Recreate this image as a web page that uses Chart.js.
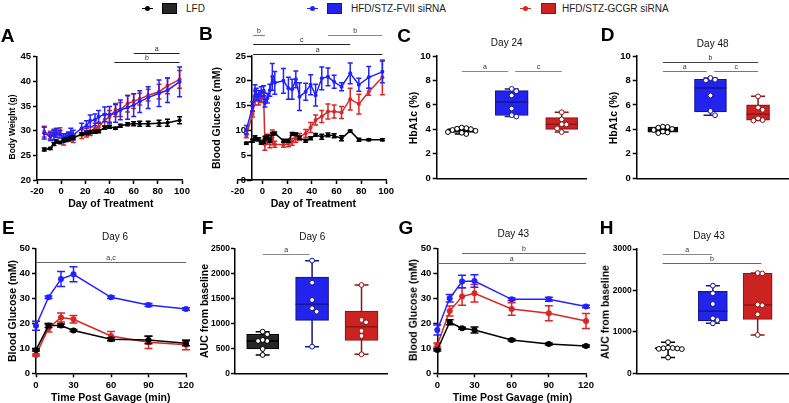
<!DOCTYPE html>
<html><head><meta charset="utf-8">
<script src="https://cdn.jsdelivr.net/npm/chart.js@4.4.1/dist/chart.umd.min.js"></script>
<style>
html,body{margin:0;padding:0;background:#fff;}
body{width:789px;height:403px;position:relative;overflow:hidden;font-family:'Liberation Sans',Arial,sans-serif;}
canvas{position:absolute;}
.t{position:absolute;white-space:nowrap;color:#000;line-height:1;}
.lg{position:absolute;box-sizing:border-box;}
</style></head><body>
<script>
// ================= DATA =================
// Panel A: body weight (g)
const bwDays  = [-14,-9,-6,-4,-1,2,4,6,8,10,17,21,24,28,31,36,40,45,49,55,60,65,72,81,88,98];
const bwLFD   = [26.2,26.4,27.3,27.8,27.6,28.0,28.2,28.3,28.5,28.6,29.3,29.5,29.7,29.8,29.9,30.6,30.8,30.5,31.0,31.3,31.4,31.4,31.4,31.5,31.6,32.1];
const bwLFDsem  = [0.3,0.2,0.3,0.3,0.2,0.3,0.3,0.3,0.3,0.3,0.3,0.3,0.3,0.3,0.3,0.3,0.3,0.2,0.3,0.3,0.4,0.5,0.5,0.6,0.7,0.7];
const bwFVII  = [29.5,28.8,29.1,29.5,29.3,28.6,28.6,28.8,29.5,29.1,30.5,31.0,32.0,32.2,32.8,33.3,33.3,33.5,34.2,34.7,35.2,35.9,36.7,37.6,38.2,39.9];
const bwFVIIsem = [1.2,0.8,1.0,0.9,0.8,0.8,0.8,0.9,1.0,1.0,1.0,1.0,1.2,1.2,1.3,1.5,1.6,1.8,2.0,2.4,2.3,2.2,2.2,2.7,2.5,3.0];
const bwGCGR  = [29.8,29.1,29.6,29.7,29.9,28.0,28.6,28.8,28.8,28.4,29.3,29.6,29.9,30.5,30.7,32.2,32.8,34.2,34.3,35.5,36.0,36.4,37.2,37.9,39.1,40.4];
const bwGCGRsem = [1.1,0.8,0.7,0.8,0.7,0.9,0.8,0.9,0.9,0.8,0.9,0.9,0.9,1.0,1.0,1.2,1.3,1.3,1.4,1.7,1.5,1.2,1.2,1.5,1.6,1.8];

// Panel B: blood glucose (mM)
const bgDays  = [-13,-8,-6,-5,-3,-1,1,2,4,6,8,10,17,21,24,27,30,35,39,43,48,53,58,64,71,78,86,97];
const bgLFD   = [7.4,7.9,8.6,8.2,8.2,7.4,7.7,8.4,8.7,7.9,9.3,9.4,7.9,7.9,9.3,9.2,8.5,7.9,8.4,9.1,8.7,9.1,8.9,8.4,9.9,8.1,8.1,8.1];
const bgLFDsem  = [0.2,0.3,0.3,0.3,0.3,0.2,0.3,0.4,0.3,0.3,0.3,0.3,0.3,0.3,0.3,0.3,0.3,0.3,0.3,0.3,0.5,0.4,0.4,0.5,0.2,0.3,0.2,0.2];
const bgFVII  = [10.1,14.8,18.0,17.3,17.0,17.8,18.0,15.5,16.5,18.1,20.8,19.6,20.0,18.5,18.3,20.3,16.8,17.8,19.2,17.1,20.5,20.8,19.8,18.8,21.5,19.2,20.7,21.8];
const bgFVIIsem = [0.9,1.0,1.2,1.2,1.0,1.0,1.0,0.8,1.0,1.2,2.7,2.3,2.5,2.2,2.0,1.7,2.8,1.7,2.0,2.2,2.3,1.8,1.3,0.8,2.1,1.3,2.2,2.2];
const bgGCGR  = [8.9,13.3,16.1,17.1,16.0,16.5,16.8,7.2,8.2,7.7,8.6,7.2,7.1,7.3,7.7,8.4,8.7,9.4,10.6,12.1,12.8,13.8,13.8,13.6,16.3,15.3,17.8,20.7];
const bgGCGRsem = [0.4,0.6,1.0,1.0,0.9,0.9,0.9,1.2,1.0,1.2,1.5,0.6,0.5,0.6,0.7,0.8,0.7,0.8,1.0,1.0,1.2,1.5,1.3,1.2,2.2,2.0,0.7,3.5];

// Panels C, D: HbA1c (%)
const hba24LFD  = [3.62,3.72,3.78,3.88,3.95,4.02,4.05,4.10,4.15];
const hba24FVII = [5.05,5.16,5.70,6.77,7.12,7.31];
const hba24GCGR = [3.78,4.08,4.40,4.42,4.82,5.40];
const hba48LFD  = [3.70,3.75,3.82,3.95,4.03,4.14,4.20,4.22];
const hba48FVII = [5.16,5.51,6.77,8.00,8.06,8.20];
const hba48GCGR = [4.72,4.76,4.90,5.60,5.78,6.70];

// Panels E, G: OGTT blood glucose (mM)
const ogttTime = [0,10,20,30,60,90,120];
const d6LFD   = [9.3,19.1,19.1,17.1,13.6,13.3,12.0];
const d6LFDsem  = [0.4,0.8,0.6,0.4,0.6,1.5,1.0];
const d6FVII  = [19.0,30.4,37.7,39.6,30.4,27.3,25.7];
const d6FVIIsem = [1.8,0.5,3.0,3.0,0.5,0.6,0.5];
const d6GCGR  = [7.3,18.0,22.3,21.6,14.9,12.4,11.4];
const d6GCGRsem = [0.4,1.5,1.8,1.5,1.8,2.5,2.0];
const d43LFD  = [9.3,20.4,18.0,17.3,13.3,11.7,10.9];
const d43LFDsem  = [0.4,1.0,0.4,1.2,0.4,0.4,0.4];
const d43FVII = [17.3,30.0,36.7,36.9,29.6,29.6,26.7];
const d43FVIIsem = [2.0,1.5,2.5,2.5,0.5,0.8,0.5];
const d43GCGR = [11.3,24.9,30.7,32.0,25.7,24.0,20.9];
const d43GCGRsem = [0.8,2.0,3.5,3.5,2.5,3.0,3.0];

// Panels F, H: AUC from baseline
const auc6LFD   = [367,487,647,647,667,780,833];
const auc6FVII  = [533,1233,1300,1467,1813,2253];
const auc6GCGR  = [380,747,847,1020,1067,1767];
const auc43LFD  = [380,585,590,600,605,610,620,750];
const auc43FVII = [1206,1286,1327,1672,1930,2115];
const auc43GCGR = [925,1423,1640,1660,2410,2420];

// significance annotations (x-span, level, label)
const sigA = [{x1:60,x2:98,y:45.7,l:'a',c:'#222'},{x1:44,x2:98,y:43.9,l:'b',c:'#222'}];
const sigB = [{x1:-7.5,x2:2,y:29.2,l:'b',c:'#888'},{x1:53,x2:97,y:29.2,l:'b',c:'#888'},{x1:-7.5,x2:71,y:27.4,l:'c',c:'#222'},{x1:-7.5,x2:97,y:25.5,l:'a',c:'#222'}];
const sigC = [{x1:1,x2:1.93,y:8.8,l:'a',c:'#888'},{x1:2.07,x2:3,y:8.8,l:'c',c:'#888'}];
const sigD = [{x1:1,x2:3,y:9.5,l:'b',c:'#444'},{x1:1,x2:1.92,y:8.8,l:'a',c:'#777'},{x1:2.08,x2:3,y:8.8,l:'c',c:'#777'}];
const sigE = [{x1:0,x2:120,y:44.4,l:'a,c',c:'#666'}];
const sigF = [{x1:1,x2:1.95,y:2390,l:'a',c:'#888'}];
const sigG = [{x1:20,x2:120,y:48,l:'b',c:'#666'},{x1:0,x2:120,y:44.3,l:'a',c:'#666'}];
const sigH = [{x1:0.88,x2:1.98,y:2880,l:'a',c:'#888'},{x1:0.88,x2:3.08,y:2670,l:'b',c:'#666'}];

// ================= STYLE =================
const FONT = "'Liberation Sans', Arial, Helvetica, sans-serif";
Chart.defaults.font.family = FONT;
const COL = {
  LFD:  {line:'#000000', fill:'#262626', dark:'#000000'},
  FVII: {line:'#2222ff', fill:'#2323ee', dark:'#16168c'},
  GCGR: {line:'#d92626', fill:'#cc2222', dark:'#8c1616'}
};

// ================= PLUGINS =================
const errPlugin = {
  id:'errbars',
  afterDatasetDraw(chart, args, opts) {
    const ds = chart.data.datasets[args.index];
    if (!ds.err) return;
    const ctx = chart.ctx, ys = chart.scales.y, cw = (opts.cap || 5) / 2;
    ctx.save(); ctx.strokeStyle = ds.borderColor; ctx.lineWidth = 1.5;
    args.meta.data.forEach((pt, j) => {
      const v = ds.data[j].y, e = ds.err[j];
      const yt = ys.getPixelForValue(v + e), yb = ys.getPixelForValue(v - e);
      ctx.beginPath();
      ctx.moveTo(pt.x, yt); ctx.lineTo(pt.x, yb);
      ctx.moveTo(pt.x - cw, yt); ctx.lineTo(pt.x + cw, yt);
      ctx.moveTo(pt.x - cw, yb); ctx.lineTo(pt.x + cw, yb);
      ctx.stroke();
    });
    ctx.restore();
  }
};
const sigPlugin = {
  id:'sig',
  afterDraw(chart, args, opts) {
    if (!opts.items) return;
    const ctx = chart.ctx, xs = chart.scales.x, ys = chart.scales.y;
    opts.items.forEach(it => {
      const x1 = xs.getPixelForValue(it.x1), x2 = xs.getPixelForValue(it.x2), y = Math.round(ys.getPixelForValue(it.y)) + 0.5;
      ctx.save(); ctx.strokeStyle = it.c; ctx.lineWidth = 1.2;
      ctx.beginPath(); ctx.moveTo(x1, y); ctx.lineTo(x2, y); ctx.stroke();
      ctx.fillStyle = '#333'; ctx.font = '7px ' + FONT; ctx.textAlign = 'center'; ctx.textBaseline = 'bottom';
      ctx.fillText(it.l, (x1 + x2) / 2, y - 1);
      ctx.restore();
    });
  }
};
function swarm(ys, d) {
  const idx = ys.map((y, i) => i).sort((a, b) => ys[a] - ys[b]);
  const placed = [], off = new Array(ys.length);
  idx.forEach(i => {
    const y = ys[i];
    for (let k = 0; k < 40; k++) {
      const cand = k === 0 ? 0 : (k % 2 ? 1 : -1) * Math.ceil(k / 2) * d;
      if (placed.every(p => Math.hypot(p.x - cand, p.y - y) >= d - 0.01)) { placed.push({x:cand, y}); off[i] = cand; break; }
    }
  });
  return off;
}
const boxPlugin = {
  id:'boxes',
  beforeDatasetsDraw(chart) {
    const ctx = chart.ctx, xs = chart.scales.x, ys = chart.scales.y;
    chart.data.datasets.forEach(ds => {
      if (!ds.stats) return;
      const x = xs.getPixelForValue(ds.data[0].x), s = ds.stats, cw = 7;
      const yMin = ys.getPixelForValue(s.min), yMax = ys.getPixelForValue(s.max);
      ctx.save(); ctx.strokeStyle = ds.dark; ctx.lineWidth = 1.5;
      ctx.beginPath();
      ctx.moveTo(x, yMin); ctx.lineTo(x, yMax);
      ctx.moveTo(x - cw, yMin); ctx.lineTo(x + cw, yMin);
      ctx.moveTo(x - cw, yMax); ctx.lineTo(x + cw, yMax);
      ctx.stroke(); ctx.restore();
    });
  },
  afterDatasetsDraw(chart) {
    const ctx = chart.ctx, xs = chart.scales.x, ys = chart.scales.y;
    chart.data.datasets.forEach(ds => {
      if (!ds.stats) return;
      const x = xs.getPixelForValue(ds.data[0].x), s = ds.stats, hw = ds.barThickness / 2;
      const ym = ys.getPixelForValue(s.med);
      ctx.save(); ctx.strokeStyle = ds.dark; ctx.lineWidth = 1.5;
      ctx.beginPath(); ctx.moveTo(x - hw, ym); ctx.lineTo(x + hw, ym); ctx.stroke();
      const r = 2.4;
      const py = ds.values.map(v => ys.getPixelForValue(v));
      const off = swarm(py, 4.6);
      ctx.lineWidth = 1; ctx.fillStyle = '#fff';
      py.forEach((y, i) => {
        ctx.beginPath(); ctx.arc(x + off[i], y, r, 0, Math.PI * 2); ctx.fill(); ctx.stroke();
      });
      ctx.restore();
    });
  }
};
Chart.register(errPlugin, sigPlugin, boxPlugin);

// ================= HELPERS =================
function quart(s, p) {
  const n = s.length; let pos = (n + 1) * p;
  pos = Math.min(Math.max(pos, 1), n);
  const lo = Math.floor(pos), hi = Math.ceil(pos);
  return s[lo - 1] + (pos - lo) * (s[hi - 1] - s[lo - 1]);
}
function stats(vals) {
  const s = [...vals].sort((a, b) => a - b);
  return {min:s[0], q1:quart(s, 0.25), med:quart(s, 0.5), q3:quart(s, 0.75), max:s[s.length - 1]};
}
function axis(min, max, step, extra, cb, fs, pad) {
  return Object.assign({
    type:'linear', min, max, offset:false,
    border:{display:true, color:'#000', width:1.5},
    grid:{display:true, offset:false, drawOnChartArea:false, drawTicks:true, tickLength:4, tickWidth:1.5, color:'#000'},
    ticks:{display:true, stepSize:step, autoSkip:false, maxRotation:0, color:'#000', padding: pad == null ? 2 : pad,
           font:{family:FONT, size: fs || 9.5, weight:'bold'}, callback: cb || (v => String(v))}
  }, extra || {});
}
function boxX(min, max) {
  return axis(min, max, 1, {grid:{display:false, offset:false}, ticks:{display:false}});
}
function makeChart(frame, area, config, yInside) {
  const [x0, y0, x1, y1] = frame, w = x1 - x0, h = y1 - y0;
  const c = document.createElement('canvas');
  c.width = w; c.height = h;
  c.style.left = x0 + 'px'; c.style.top = y0 + 'px'; c.style.width = w + 'px'; c.style.height = h + 'px';
  document.body.appendChild(c);
  const o = config.options;
  o.responsive = false; o.maintainAspectRatio = false; o.animation = false; o.devicePixelRatio = 1; o.events = [];
  o.layout = {padding:{left: yInside ? area.l - x0 : 0, top: area.t - y0, right: x1 - area.r, bottom: 0}};
  o.plugins = Object.assign({legend:{display:false}, tooltip:{enabled:false}}, o.plugins || {});
  o.scales.x.afterFit = s => { s.height = y1 - area.b; };
  if (!yInside) o.scales.y.afterFit = s => { s.width = area.l - x0; };
  return new Chart(c, config);
}
function lineSet(xs, ys, err, col, r) {
  return {data: xs.map((x, i) => ({x, y: ys[i]})), err,
    borderColor: col, backgroundColor: col, pointBackgroundColor: col, pointBorderColor: col,
    pointRadius: r, pointBorderWidth: 0, borderWidth: 1.5, tension: 0, clip: false};
}
function boxSets(groups) {
  return groups.map((g, i) => {
    const st = stats(g.v);
    return {type:'bar', data:[{x: i + 1, y:[st.q1, st.q3]}], backgroundColor: g.c.fill, borderColor: g.c.dark,
      borderWidth: 1.2, borderSkipped: false, barThickness: g.w, grouped: false, stats: st, values: g.v, dark: g.c.dark};
  });
}
function txt(s, cx, cy, font, rot, color) {
  const d = document.createElement('div');
  d.className = 't'; d.textContent = s;
  d.style.left = cx + 'px'; d.style.top = cy + 'px'; d.style.font = font;
  if (color) d.style.color = color;
  d.style.transform = 'translate(-50%,-50%)' + (rot ? ' rotate(-90deg)' : '');
  document.body.appendChild(d);
}
function lgDiv(l, t, w, h, css) {
  const d = document.createElement('div'); d.className = 'lg';
  d.style.left = l + 'px'; d.style.top = t + 'px'; d.style.width = w + 'px'; d.style.height = h + 'px';
  Object.assign(d.style, css); document.body.appendChild(d);
}
function legendItem(lx, bx, tx, c, label) {
  lgDiv(lx, 7.8, 11, 1.5, {background: c.line});
  lgDiv(lx + 3, 6, 5, 5, {background: c.line, borderRadius: '50%'});
  lgDiv(bx, 3, 15, 11, {background: c.fill, border: '1px solid ' + c.dark});
  const d = document.createElement('div'); d.className = 't'; d.textContent = label;
  d.style.left = tx + 'px'; d.style.top = '8.5px'; d.style.font = '10px/1 ' + FONT; d.style.color = '#222';
  d.style.transform = 'translateY(-50%)'; document.body.appendChild(d);
}

// ================= LEGEND =================
legendItem(142, 162, 186, COL.LFD, 'LFD');
legendItem(307, 327, 351, COL.FVII, 'HFD/STZ-FVII siRNA');
legendItem(520, 541, 562, COL.GCGR, 'HFD/STZ-GCGR siRNA');

// ================= PANELS =================
// A
makeChart([12, 44, 196, 197], {l:37, r:182, t:56.7, b:180}, {
  type:'line',
  data:{datasets:[
    lineSet(bwDays, bwLFD, bwLFDsem, COL.LFD.line, 2),
    lineSet(bwDays, bwFVII, bwFVIIsem, COL.FVII.line, 2),
    lineSet(bwDays, bwGCGR, bwGCGRsem, COL.GCGR.line, 2)]},
  options:{scales:{x: axis(-20, 100, 20), y: axis(20, 45, 5)}, plugins:{errbars:{cap:5}, sig:{items:sigA}}}
});
// B (y axis crosses the x axis at day -9, as in the reference)
makeChart([205, 22, 396, 197], {l:237.7, r:386.7, t:56, b:180}, {
  type:'line',
  data:{datasets:[
    lineSet(bgDays, bgLFD, bgLFDsem, COL.LFD.line, 2),
    lineSet(bgDays, bgFVII, bgFVIIsem, COL.FVII.line, 2),
    lineSet(bgDays, bgGCGR, bgGCGRsem, COL.GCGR.line, 2)]},
  options:{scales:{x: axis(-20, 100, 20), y: axis(0, 25, 5, {position:{x:-9}}, v => String(v) + '  ')},
           plugins:{errbars:{cap:5}, sig:{items:sigB}}}
}, true);
// C
makeChart([405, 44, 595, 186], {l:436.7, r:586.7, t:56, b:180}, {
  type:'bar',
  data:{datasets: boxSets([{v:hba24LFD, c:COL.LFD, w:28}, {v:hba24FVII, c:COL.FVII, w:33}, {v:hba24GCGR, c:COL.GCGR, w:32}])},
  options:{scales:{x: boxX(0.5, 3.5), y: axis(0, 10, 2)}, plugins:{sig:{items:sigC}}}
});
// D
makeChart([605, 44, 789, 186], {l:636.7, r:789, t:56, b:180}, {
  type:'bar',
  data:{datasets: boxSets([{v:hba48LFD, c:COL.LFD, w:30}, {v:hba48FVII, c:COL.FVII, w:32}, {v:hba48GCGR, c:COL.GCGR, w:23}])},
  options:{scales:{x: boxX(0.45, 3.65), y: axis(0, 10, 2)}, plugins:{sig:{items:sigD}}}
});
// E
makeChart([12, 236, 196, 392], {l:36, r:186, t:248.3, b:373.3}, {
  type:'line',
  data:{datasets:[
    lineSet(ogttTime, d6LFD, d6LFDsem, COL.LFD.line, 3),
    lineSet(ogttTime, d6FVII, d6FVIIsem, COL.FVII.line, 3),
    lineSet(ogttTime, d6GCGR, d6GCGRsem, COL.GCGR.line, 3)]},
  options:{scales:{x: axis(0, 120, 30), y: axis(0, 50, 10)}, plugins:{errbars:{cap:8}, sig:{items:sigE}}}
});
// F
makeChart([203, 236, 395, 380], {l:235, r:387.7, t:248.3, b:373.3}, {
  type:'bar',
  data:{datasets: boxSets([{v:auc6LFD, c:COL.LFD, w:32}, {v:auc6FVII, c:COL.FVII, w:33}, {v:auc6GCGR, c:COL.GCGR, w:33}])},
  options:{scales:{x: boxX(0.44, 3.53), y: axis(0, 2500, 500, null, null, 8.5, 1)}, plugins:{sig:{items:sigF}}}
});
// G
makeChart([410, 236, 597, 392], {l:437.3, r:586, t:248.3, b:373.3}, {
  type:'line',
  data:{datasets:[
    lineSet(ogttTime, d43LFD, d43LFDsem, COL.LFD.line, 3),
    lineSet(ogttTime, d43FVII, d43FVIIsem, COL.FVII.line, 3),
    lineSet(ogttTime, d43GCGR, d43GCGRsem, COL.GCGR.line, 3)]},
  options:{scales:{x: axis(0, 120, 30), y: axis(0, 50, 10)}, plugins:{errbars:{cap:8}, sig:{items:sigG}}}
});
// H
makeChart([603, 236, 789, 380], {l:636.7, r:789, t:249, b:373.3}, {
  type:'bar',
  data:{datasets: boxSets([{v:auc43LFD, c:COL.LFD, w:26}, {v:auc43FVII, c:COL.FVII, w:29}, {v:auc43GCGR, c:COL.GCGR, w:29}])},
  options:{scales:{x: boxX(0.3, 3.7), y: axis(0, 3000, 1000, null, null, 8.5, 1)}, plugins:{sig:{items:sigH}}}
});

// ================= TEXT =================
const LET = 'bold 19px/1 ' + FONT, TTL = '10px/1 ' + FONT, AX = 'bold 10.5px/1 ' + FONT;
[['A',7.5,35],['B',205.8,33.3],['C',404,34.5],['D',607.5,34],['E',8.3,226.7],['F',207.5,226.7],['G',405.8,226.7],['H',606.7,226.7]]
  .forEach(a => txt(a[0], a[1], a[2], LET));
[['Day 24',506.7,43.3],['Day 48',712.7,44],['Day 6',115,236.7],['Day 6',312.3,236.7],['Day 43',513.3,234.3],['Day 43',709,236]]
  .forEach(a => txt(a[0], a[1], a[2], TTL, false, '#111'));
[['Day of Treatment',110.8,202.7],['Day of Treatment',313.3,202.7],['Time Post Gavage (min)',110.8,396.7],['Time Post Gavage (min)',512.5,396.7]]
  .forEach(a => txt(a[0], a[1], a[2], AX));
txt('Body Weight (g)', 11.5, 127, 'bold 8.5px/1 ' + FONT, true);
[['Blood Glucose (mM)',216,118.3],['HbA1c (%)',413.3,117.8],['HbA1c (%)',613.3,117.5],['Blood Glucose (mM)',11.7,310.8],
 ['AUC from baseline',204,310.8],['Blood Glucose (mM)',413.3,310.3],['AUC from baseline',605,311.7]]
  .forEach(a => txt(a[0], a[1], a[2], AX, true));
</script>
</body></html>
